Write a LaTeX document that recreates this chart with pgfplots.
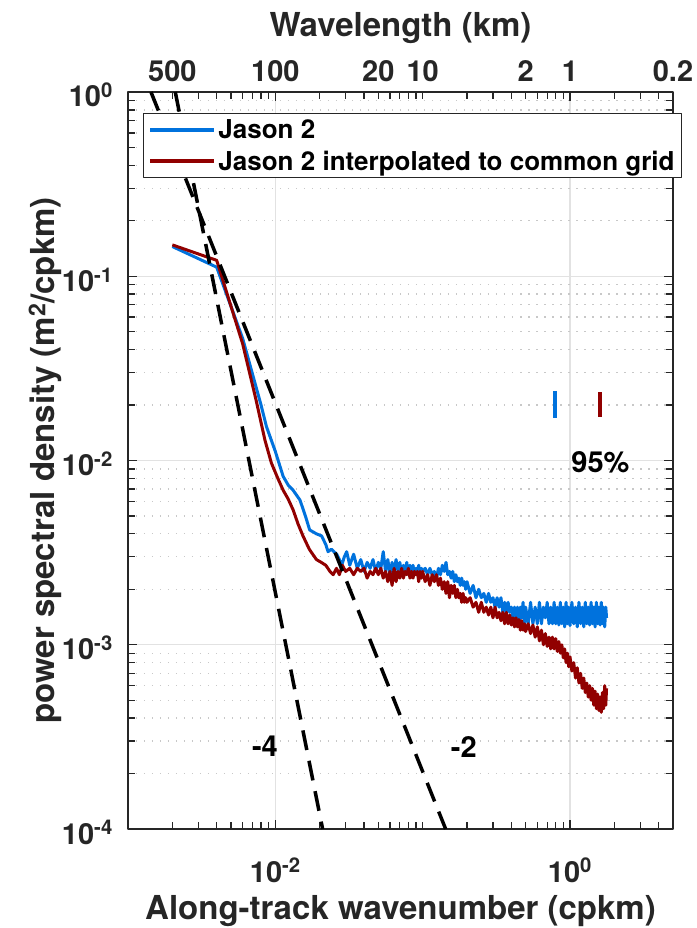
\documentclass[border=0pt]{standalone}
\usepackage{fontspec}
\setmainfont{TeX Gyre Heros}
\usepackage{pgfplots}
\pgfplotsset{compat=1.18}
\usetikzlibrary{calc}
\definecolor{jblue}{RGB}{0,114,221}
\definecolor{jred}{RGB}{145,0,0}
\definecolor{axgray}{RGB}{38,38,38}
\definecolor{majgrid}{RGB}{226,226,226}
\definecolor{mingrid}{RGB}{200,200,200}
\newcommand{\tk}{\fontsize{29}{32}\selectfont\bfseries}
\newcommand{\lb}{\fontsize{33}{36}\selectfont\bfseries}
\begin{document}
\begin{tikzpicture}
\begin{axis}[name=ax, scale only axis, width=545pt, height=737pt,
  xmode=log, ymode=log, xmin=1e-3, xmax=5, ymin=1e-4, ymax=1,
  xtick={0.01,1}, xticklabels={10\textsuperscript{-2},10\textsuperscript{0}},
  minor xtick={0.002,0.003,0.004,0.005,0.006,0.007,0.008,0.009,0.02,0.03,0.04,0.05,0.06,0.07,0.08,0.09,0.1,0.2,0.3,0.4,0.5,0.6,0.7,0.8,0.9,2,3,4},
  ytick={1e-4,1e-3,1e-2,1e-1,1},
  yticklabels={10\textsuperscript{-4},10\textsuperscript{-3},10\textsuperscript{-2},10\textsuperscript{-1},10\textsuperscript{0}},
  minor ytick={2e-4,3e-4,4e-4,5e-4,6e-4,7e-4,8e-4,9e-4,2e-3,3e-3,4e-3,5e-3,6e-3,7e-3,8e-3,9e-3,0.02,0.03,0.04,0.05,0.06,0.07,0.08,0.09,0.2,0.3,0.4,0.5,0.6,0.7,0.8,0.9},
  xmajorgrids, ymajorgrids, yminorgrids, xminorgrids=false,
  major grid style={majgrid, line width=1.3pt},
  minor grid style={mingrid, line width=1.3pt, dash pattern=on 1.5pt off 6.5pt},
  tick align=inside, major tick length=9pt, minor tick length=7pt,
  every tick/.style={axgray, line width=1.3pt},
  axis line style={axgray, line width=1.5pt},
  tick label style={font=\tk, text=axgray},
  xticklabel style={anchor=base, yshift=-53pt},
  yticklabel style={anchor=base east, inner xsep=0pt, xshift=-15pt, yshift=-15pt},
  label style={font=\lb, text=axgray},
  xlabel={Along-track wavenumber (cpkm)},
  xlabel style={at={(axis description cs:0.5,0)}, anchor=base, yshift=-90pt},
  ylabel={power spectral density (m\textsuperscript{2}/cpkm)},
  ylabel style={at={(axis description cs:-0.152,0.5)}, anchor=center, rotate=0},
  legend style={at={(0.0275,0.9715)}, anchor=north west, draw=axgray, line width=1pt, fill=white,
    font=\fontsize{26}{30}\selectfont\bfseries, inner xsep=5pt, inner ysep=4pt,
    nodes={inner sep=2pt}, row sep=7pt},
  legend cell align=left,
  legend image code/.code={\draw[#1, line width=4pt] (0pt,0pt) -- (64pt,0pt);},
  line join=round,
]
\addplot[jblue, line width=3pt] coordinates {
(0.002,0.145)(0.004,0.112)(0.006,0.046)(0.008,0.0200)(0.0087,0.0153)(0.010,0.0112)(0.0113,0.0082)(0.0123,0.0073)(0.0132,0.0069)(0.0147,0.0061)(0.0160,0.0050)(0.0171,0.0042)(0.0190,0.0040)(0.0206,0.0039)(0.0220,0.0035)(0.0228,0.0032)(0.0240,0.0033)(0.0261,0.0031)(0.0272,0.0029)(0.0282,0.0027)(0.0294,0.0030)(0.0305,0.0032)
(0.032,0.0027)(0.034,0.0031)(0.036,0.0026)(0.038,0.0029)(0.040,0.0025)(0.042,0.0028)(0.044,0.0026)(0.046,0.0029)(0.048,0.0025)(0.050,0.0028)(0.052,0.0026)(0.054,0.0032)(0.056,0.0025)(0.058,0.0029)(0.060,0.0024)(0.062,0.0028)(0.064,0.0025)(0.066,0.0029)(0.068,0.0025)(0.070,0.0028)(0.072,0.0024)(0.074,0.0027)(0.076,0.0025)(0.078,0.0028)(0.080,0.0024)(0.082,0.0027)(0.084,0.0025)(0.086,0.0027)(0.088,0.0024)(0.090,0.0026)(0.092,0.0025)(0.094,0.0027)(0.096,0.0024)(0.098,0.0026)(0.100,0.0025)
(0.104,0.0026)(0.108,0.0024)(0.112,0.0026)(0.116,0.0024)(0.120,0.0025)(0.124,0.0023)(0.128,0.0026)(0.132,0.0024)(0.136,0.0027)(0.140,0.0025)(0.144,0.0028)(0.148,0.0024)(0.152,0.0025)(0.156,0.0023)(0.160,0.0025)(0.164,0.0022)(0.168,0.0024)(0.172,0.0022)(0.176,0.0023)(0.180,0.0021)(0.184,0.0023)(0.188,0.0021)(0.192,0.0022)(0.196,0.0020)(0.200,0.0022)
(0.21,0.0019)(0.22,0.0021)(0.23,0.0018)(0.24,0.0020)(0.25,0.0018)(0.26,0.0019)(0.27,0.0017)(0.28,0.0019)(0.29,0.0017)(0.30,0.0018)(0.31,0.0016)(0.32,0.0018)(0.33,0.0016)(0.34,0.0018)(0.35,0.0015)(0.36,0.0017)(0.37,0.0015)(0.38,0.0017)(0.39,0.0015)(0.40,0.0016)(0.41,0.0014)(0.42,0.0016)(0.43,0.0014)(0.44,0.0016)(0.45,0.0013)(0.46,0.0016)(0.47,0.0014)(0.48,0.0017)(0.49,0.0013)(0.50,0.0016)
(0.52,0.0013)(0.54,0.0017)(0.56,0.0013)(0.58,0.0016)(0.60,0.0013)(0.62,0.0017)(0.64,0.0013)(0.66,0.0016)(0.68,0.0014)(0.70,0.0017)(0.72,0.0013)(0.74,0.0016)(0.76,0.0013)(0.78,0.0017)(0.80,0.0013)(0.82,0.0016)(0.84,0.00128)(0.86,0.0017)(0.88,0.0013)(0.90,0.0016)(0.92,0.00125)(0.94,0.0017)(0.96,0.0013)(0.98,0.0016)(1.00,0.00127)
(1.03,0.0017)(1.06,0.0013)(1.09,0.0016)(1.12,0.00125)(1.15,0.0017)(1.18,0.0013)(1.21,0.0016)(1.24,0.00125)(1.27,0.0017)(1.30,0.0013)(1.33,0.0016)(1.36,0.00128)(1.39,0.0017)(1.42,0.0013)(1.45,0.0016)(1.48,0.00125)(1.51,0.0017)(1.54,0.0013)(1.57,0.0016)(1.60,0.00128)(1.63,0.0017)(1.66,0.0013)(1.69,0.0016)(1.72,0.00125)(1.75,0.0016)(1.77,0.0014)
};
\addlegendentry{Jason 2}
\addplot[jred, line width=3pt] coordinates {
(0.002,0.148)(0.004,0.122)(0.006,0.043)(0.0074,0.0213)(0.0085,0.0129)(0.0094,0.0097)(0.0104,0.0080)(0.0113,0.0069)(0.0122,0.0062)(0.0132,0.0054)(0.0143,0.0045)(0.0154,0.0039)(0.0170,0.0033)(0.0190,0.0029)(0.0205,0.0028)(0.0220,0.0027)(0.0235,0.0025)(0.0247,0.0024)(0.0260,0.0026)(0.0272,0.0024)(0.0285,0.0027)(0.0300,0.0025)
(0.032,0.0026)(0.034,0.0024)(0.036,0.0026)(0.038,0.0025)(0.040,0.0026)(0.042,0.0023)(0.044,0.0025)(0.046,0.0024)(0.048,0.0026)(0.050,0.0024)(0.052,0.0026)(0.054,0.0023)(0.056,0.0025)(0.058,0.0022)(0.060,0.0025)(0.062,0.0021)(0.064,0.0026)(0.066,0.0022)(0.068,0.0025)(0.070,0.0023)(0.072,0.0026)(0.074,0.0023)(0.076,0.0025)(0.078,0.0024)(0.080,0.0026)(0.082,0.0023)(0.084,0.0025)(0.086,0.0023)(0.088,0.0025)(0.090,0.0024)(0.092,0.0025)(0.094,0.0022)(0.096,0.0025)(0.098,0.0023)(0.100,0.0025)
(0.104,0.0022)(0.108,0.0024)(0.112,0.0021)(0.116,0.0024)(0.120,0.0022)(0.124,0.0024)(0.128,0.0021)(0.132,0.0023)(0.136,0.0020)(0.140,0.0022)(0.144,0.0019)(0.148,0.0022)(0.152,0.0018)(0.156,0.0021)(0.160,0.0019)(0.164,0.0021)(0.168,0.0018)(0.172,0.0020)(0.176,0.0018)(0.180,0.0019)(0.184,0.0017)(0.188,0.0019)(0.192,0.0017)(0.196,0.0018)(0.200,0.0017)
(0.21,0.0018)(0.22,0.0016)(0.23,0.0017)(0.24,0.0015)(0.25,0.0017)(0.26,0.0015)(0.27,0.0016)(0.28,0.00145)(0.29,0.0016)(0.30,0.0014)(0.31,0.0016)(0.32,0.0014)(0.33,0.0015)(0.34,0.00135)(0.35,0.0015)(0.36,0.0013)(0.37,0.0015)(0.38,0.0013)(0.39,0.00145)(0.40,0.00128)(0.41,0.0014)(0.42,0.00125)(0.43,0.0014)(0.44,0.00125)(0.45,0.00137)(0.46,0.0012)(0.47,0.00135)(0.48,0.0012)(0.49,0.0013)(0.50,0.00118)
(0.52,0.0013)(0.54,0.00115)(0.56,0.00128)(0.58,0.0011)(0.60,0.00125)(0.62,0.00105)(0.64,0.0012)(0.66,0.0010)(0.68,0.00115)(0.70,0.00098)(0.72,0.0011)(0.74,0.00095)(0.76,0.0011)(0.78,0.00095)(0.80,0.00108)(0.82,0.00092)(0.84,0.00104)(0.86,0.0009)(0.88,0.0010)(0.90,0.00085)(0.92,0.00095)(0.94,0.0008)(0.96,0.0009)(0.98,0.00076)(1.00,0.00086)
(1.03,0.00072)(1.06,0.0008)(1.09,0.00066)(1.12,0.00075)(1.15,0.00062)(1.18,0.0007)(1.21,0.00058)(1.24,0.00066)(1.27,0.00055)(1.30,0.00062)(1.33,0.00052)(1.36,0.0006)(1.39,0.0005)(1.42,0.00058)(1.45,0.00047)(1.48,0.00056)(1.51,0.00045)(1.54,0.00054)(1.57,0.00044)(1.60,0.00052)(1.63,0.00043)(1.66,0.00055)(1.69,0.00045)(1.72,0.0006)(1.75,0.00047)(1.77,0.00058)
};
\addlegendentry{Jason 2 interpolated to common grid}
\addplot[black, line width=3.5pt, dash pattern=on 20pt off 11pt, forget plot] coordinates {(0.002094,1) (0.02094,1e-4)};
\addplot[black, line width=3.5pt, dash pattern=on 20pt off 11pt, forget plot] coordinates {(0.001432,1) (0.1432,1e-4)};
\addplot[jblue, line width=4pt, forget plot] coordinates {(0.796,0.0239) (0.796,0.0171)};
\addplot[jred, line width=4pt, forget plot] coordinates {(1.59,0.0235) (1.59,0.0172)};
\node[font=\tk, text=black] at (axis cs:1.61,0.0098) {95\%};
\node[font=\tk, text=black] at (axis cs:0.0085,2.8e-4) {-4};
\node[font=\tk, text=black] at (axis cs:0.19,2.8e-4) {-2};
\end{axis}
\begin{axis}[scale only axis, width=545pt, height=737pt, at={(ax.south west)}, anchor=south west,
  xmode=log, xmin=1e-3, xmax=5, ymin=0, ymax=1,
  axis x line=top, axis y line=none, axis line style={draw=none},
  xtick={0.002,0.01,0.05,0.1,0.5,1,5}, xticklabels={500,100,20,10,2,1,0.2},
  minor xtick={}, major tick length=0pt,
  tick label style={font=\tk, text=axgray},
  xticklabel style={anchor=base, yshift=10pt},
  label style={font=\lb, text=axgray},
  xlabel={Wavelength (km)},
  xlabel style={at={(axis description cs:0.5,1)}, anchor=base, yshift=55pt},
]
\end{axis}
\pgfresetboundingbox
\path ($(ax.south west)+(-128pt,-99pt)$) rectangle ($(ax.north east)+(23pt,92pt)$);
\end{tikzpicture}
\end{document}
